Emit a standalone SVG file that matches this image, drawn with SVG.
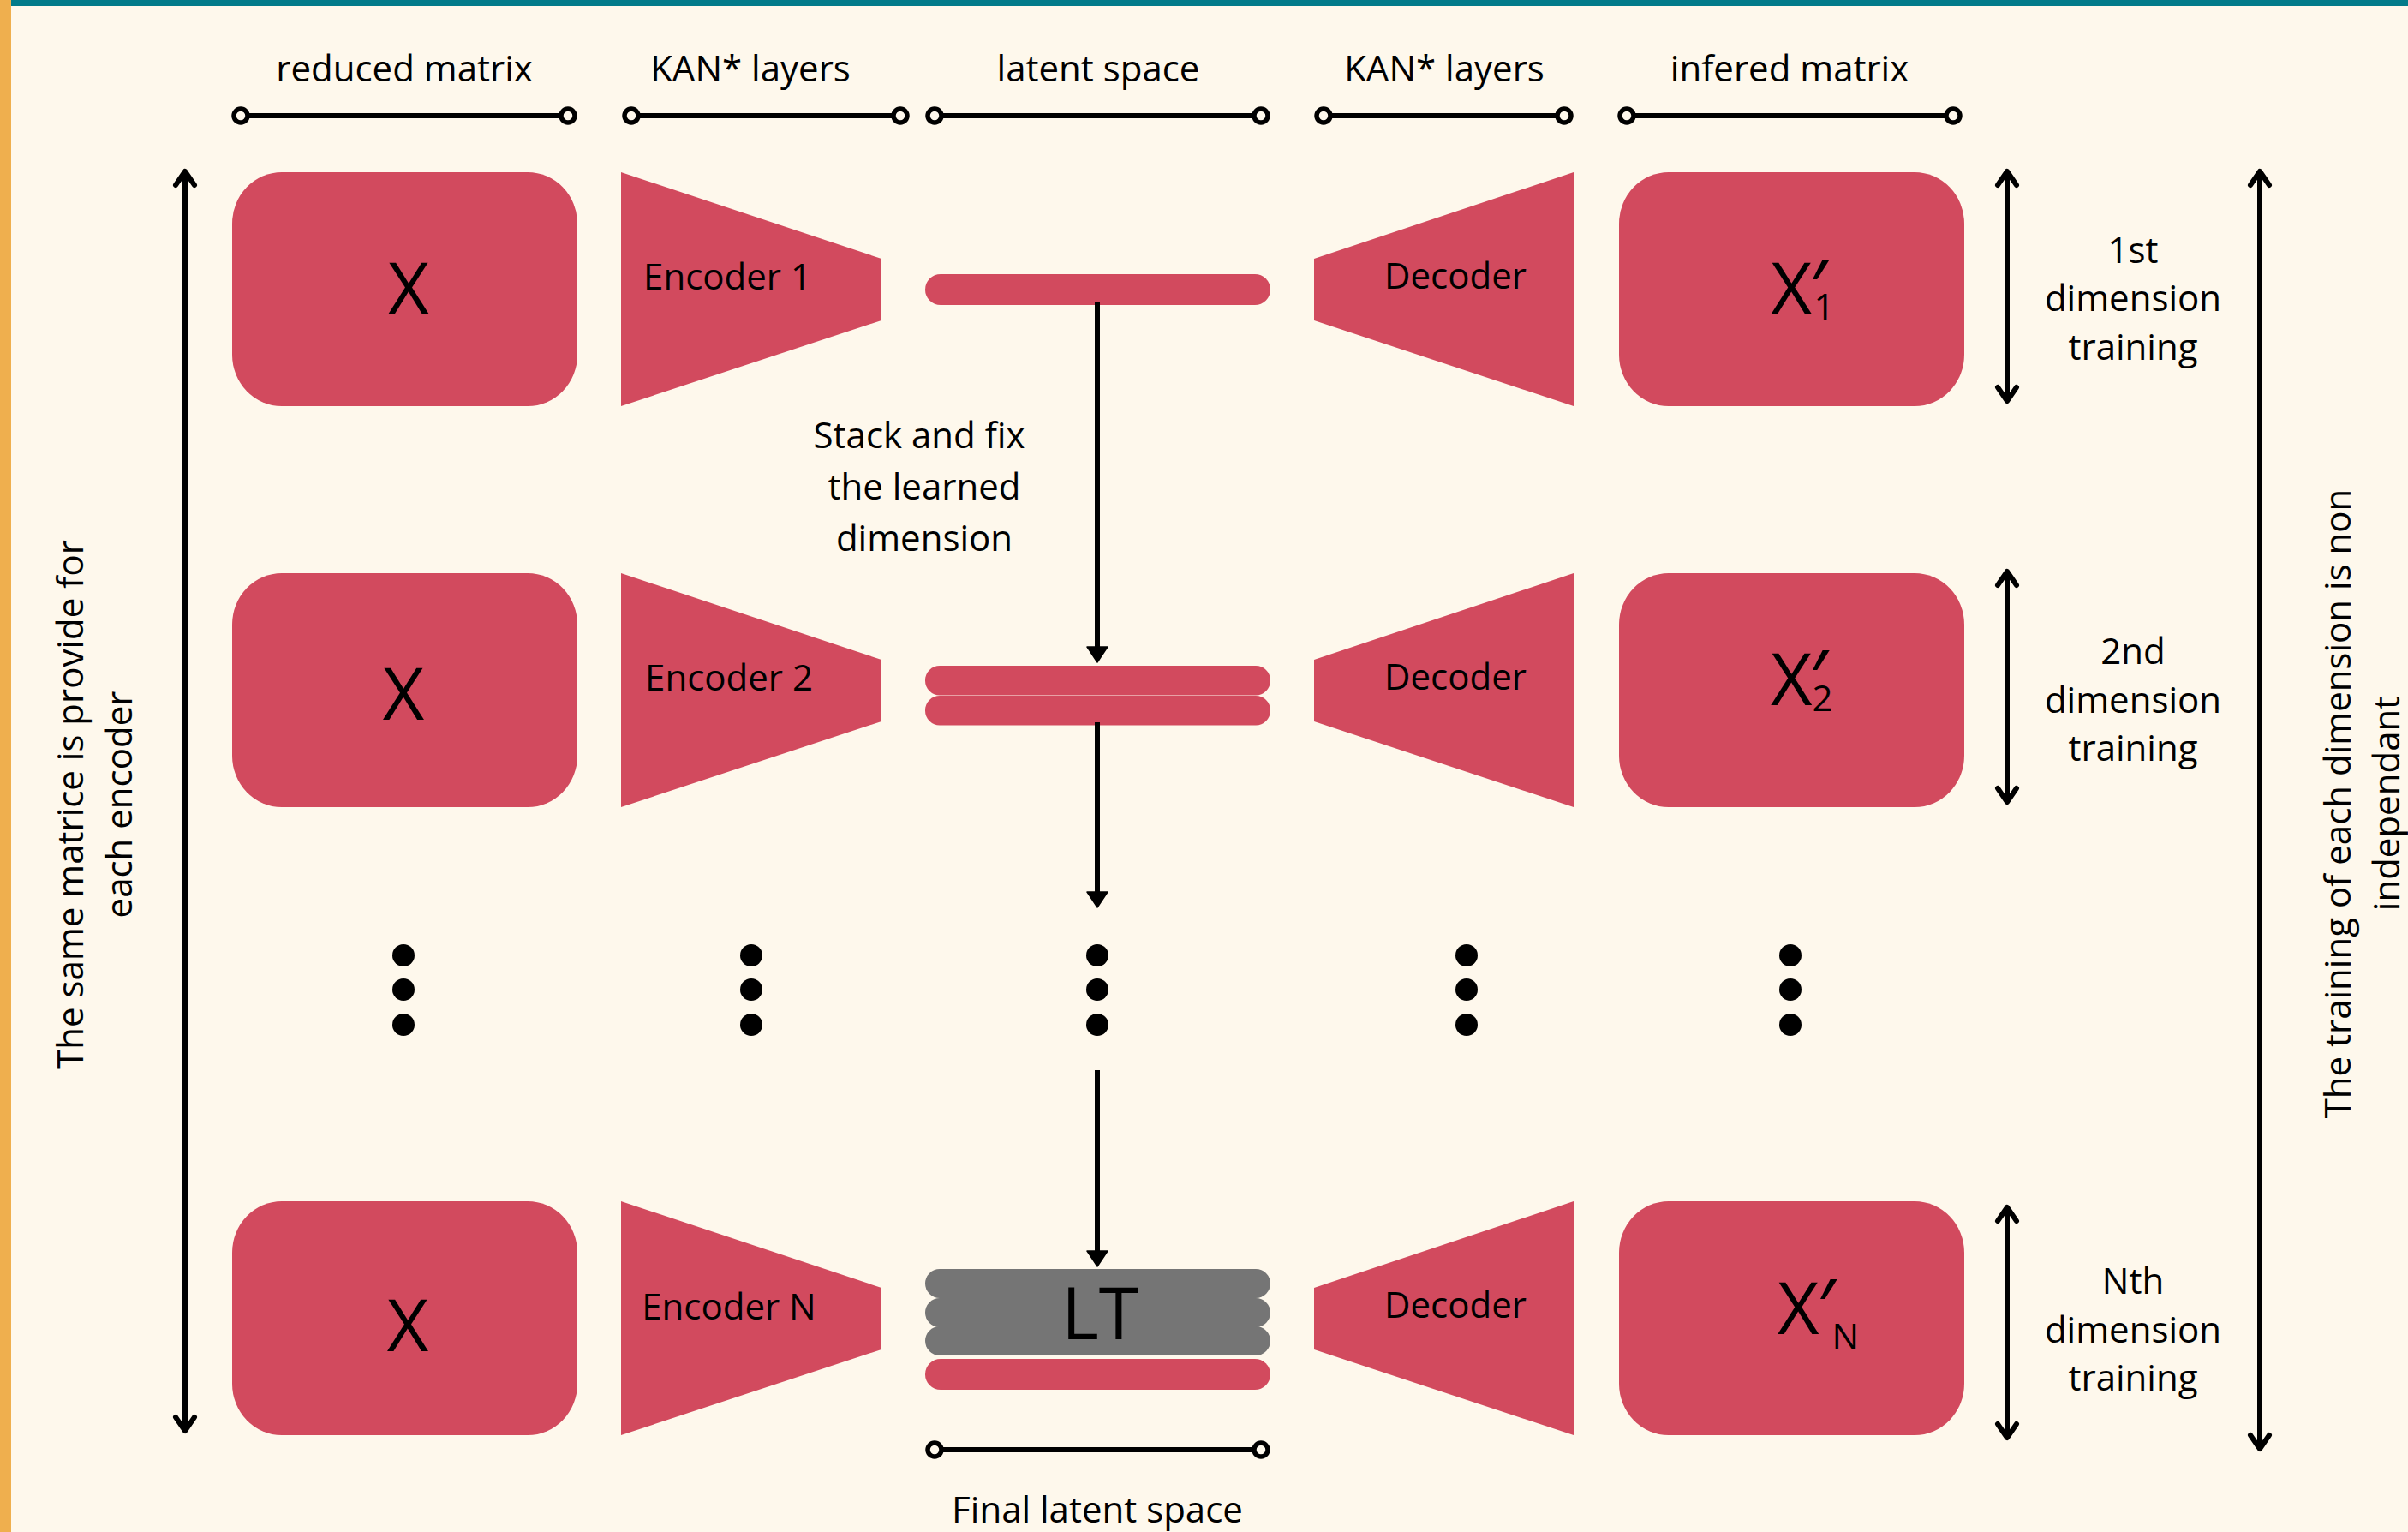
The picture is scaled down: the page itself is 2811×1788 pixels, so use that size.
<svg xmlns="http://www.w3.org/2000/svg" width="2811" height="1788" viewBox="0 0 2811 1788">
<style>
  text { font-family: "Open Sans", "Noto Sans", "DejaVu Sans", sans-serif; fill: #000; }
  .lbl { font-size: 42px; text-anchor: middle; }
  .big { font-size: 84px; text-anchor: middle; }
  .xp { font-size: 84px; }
  .pr { font-family: "Noto Sans", "DejaVu Sans", sans-serif; font-size: 90px; }
  .sub { font-size: 42px; }
  .red { fill: #d24a5e; }
  .gray { fill: #757575; }
  .ln { stroke: #000; stroke-width: 6; fill: none; }
  .dot { fill: #000; }
  .end { fill: #fef8ec; stroke: #000; stroke-width: 5.5; }
</style>
<defs>
  <marker id="chev" markerUnits="userSpaceOnUse" markerWidth="40" markerHeight="40" orient="auto-start-reverse" overflow="visible" refX="0" refY="0">
    <path d="M-16,-11 L0,0 L-16,11" fill="none" stroke="#000" stroke-width="6" stroke-linecap="round" stroke-linejoin="round"/>
  </marker>
  <marker id="tri" markerUnits="userSpaceOnUse" markerWidth="40" markerHeight="40" orient="auto" overflow="visible" refX="0" refY="0">
    <path d="M0,-12 L18,0 L0,12 Z" fill="#000" stroke="#000" stroke-width="1.5" stroke-linejoin="round"/>
  </marker>
</defs>

<rect x="0" y="0" width="2811" height="1788" fill="#fef8ec"/>
<rect x="0" y="0" width="2811" height="7" fill="#027b8a"/>
<rect x="0" y="0" width="13" height="1788" fill="#efaf4e"/>

<!-- column headers -->
<g id="headers">
  <text class="lbl" x="472" y="95">reduced matrix</text>
  <text class="lbl" x="876" y="95">KAN* layers</text>
  <text class="lbl" x="1282" y="95">latent space</text>
  <text class="lbl" x="1686" y="95">KAN* layers</text>
  <text class="lbl" x="2089" y="95">infered matrix</text>
</g>

<!-- row 1 -->
<g id="x1"><rect class="red" x="271" y="201" width="403" height="273" rx="58" ry="60"/><text class="big" x="477" y="367">X</text></g>
<g id="enc1"><polygon class="red" points="725,201 1029,302 1029,374 725,474"/><text class="lbl" x="849" y="338">Encoder 1</text></g>
<g id="lat1"><rect class="red" x="1080" y="320" width="403" height="36" rx="18" ry="18"/></g>
<g id="dec1"><polygon class="red" points="1534,302 1837,201 1837,474 1534,374"/><text class="lbl" x="1699" y="337">Decoder</text></g>
<g id="xp1"><rect class="red" x="1890" y="201" width="403" height="273" rx="58" ry="60"/>
  <text class="xp" x="2067" y="367">X<tspan class="pr" dx="-3">′</tspan><tspan class="sub" dx="-16" dy="6">1</tspan></text></g>
<g id="dim1"><text class="lbl" x="2490" y="307">1st</text><text class="lbl" x="2490" y="363">dimension</text><text class="lbl" x="2490" y="420">training</text></g>

<!-- row 2 -->
<g id="x2"><rect class="red" x="271" y="669" width="403" height="273" rx="58" ry="60"/><text class="big" x="471" y="840">X</text></g>
<g id="enc2"><polygon class="red" points="725,669 1029,770 1029,842 725,942"/><text class="lbl" x="851" y="806">Encoder 2</text></g>
<g id="lat2"><rect class="red" x="1080" y="777" width="403" height="34.5" rx="17" ry="17"/><rect class="red" x="1080" y="812" width="403" height="34.5" rx="17" ry="17"/></g>
<g id="dec2"><polygon class="red" points="1534,770 1837,669 1837,942 1534,842"/><text class="lbl" x="1699" y="805">Decoder</text></g>
<g id="xp2"><rect class="red" x="1890" y="669" width="403" height="273" rx="58" ry="60"/>
  <text class="xp" x="2067" y="823">X<tspan class="pr" dx="-3">′</tspan><tspan class="sub" dx="-18" dy="7">2</tspan></text></g>
<g id="dim2"><text class="lbl" x="2490" y="775">2nd</text><text class="lbl" x="2490" y="832">dimension</text><text class="lbl" x="2490" y="888">training</text></g>

<!-- ellipsis dots -->
<g id="dots">
  <circle class="dot" cx="471" cy="1115" r="13"/><circle class="dot" cx="471" cy="1155" r="13"/><circle class="dot" cx="471" cy="1196" r="13"/>
  <circle class="dot" cx="877" cy="1115" r="13"/><circle class="dot" cx="877" cy="1155" r="13"/><circle class="dot" cx="877" cy="1196" r="13"/>
  <circle class="dot" cx="1281" cy="1115" r="13"/><circle class="dot" cx="1281" cy="1155" r="13"/><circle class="dot" cx="1281" cy="1196" r="13"/>
  <circle class="dot" cx="1712" cy="1115" r="13"/><circle class="dot" cx="1712" cy="1155" r="13"/><circle class="dot" cx="1712" cy="1196" r="13"/>
  <circle class="dot" cx="2090" cy="1115" r="13"/><circle class="dot" cx="2090" cy="1155" r="13"/><circle class="dot" cx="2090" cy="1196" r="13"/>
</g>

<!-- row N -->
<g id="xN"><rect class="red" x="271" y="1402" width="403" height="273" rx="58" ry="60"/><text class="big" x="476" y="1577">X</text></g>
<g id="encN"><polygon class="red" points="725,1402 1029,1503 1029,1575 725,1675"/><text class="lbl" x="851" y="1540">Encoder N</text></g>
<g id="latN">
  <rect class="gray" x="1080" y="1548" width="403" height="34" rx="17" ry="17"/>
  <rect class="gray" x="1080" y="1515" width="403" height="34" rx="17" ry="17"/>
  <rect class="gray" x="1080" y="1481" width="403" height="34" rx="17" ry="17"/>
  <rect class="gray" x="1097" y="1490" width="369" height="84"/>
  <rect class="red" x="1080" y="1586" width="403" height="36" rx="18" ry="18"/>
  <text class="big" x="1284" y="1563">LT</text>
</g>
<g id="decN"><polygon class="red" points="1534,1503 1837,1402 1837,1675 1534,1575"/><text class="lbl" x="1699" y="1538">Decoder</text></g>
<g id="xpN"><rect class="red" x="1890" y="1402" width="403" height="273" rx="58" ry="60"/>
  <text class="xp" x="2075" y="1557">X<tspan class="pr" dx="-2">′</tspan><tspan class="sub" dx="-4" dy="18">N</tspan></text></g>
<g id="dimN"><text class="lbl" x="2490" y="1510">Nth</text><text class="lbl" x="2490" y="1567">dimension</text><text class="lbl" x="2490" y="1623">training</text></g>

<!-- side notes -->
<g id="stack-note">
  <text class="lbl" x="1073" y="523">Stack and fix</text>
  <text class="lbl" x="1079" y="583">the learned</text>
  <text class="lbl" x="1079" y="643">dimension</text>
</g>
<g id="left-note" transform="translate(0,939) rotate(-90)">
  <text class="lbl" x="0" y="97">The same matrice is provide for</text>
  <text class="lbl" x="0" y="154">each encoder</text>
</g>
<g id="right-note" transform="translate(0,938) rotate(-90)">
  <text class="lbl" x="0" y="2744">The training of each dimension is non</text>
  <text class="lbl" x="0" y="2801">independant</text>
</g>
<g id="final-label"><text class="lbl" x="1281" y="1777">Final latent space</text></g>

<!-- connectors -->
<g id="connectors">
  <line class="ln" x1="281" y1="135" x2="663" y2="135"/>
  <line class="ln" x1="737" y1="135" x2="1051" y2="135"/>
  <line class="ln" x1="1091" y1="135" x2="1472" y2="135"/>
  <line class="ln" x1="1545" y1="135" x2="1826" y2="135"/>
  <line class="ln" x1="1899" y1="135" x2="2280" y2="135"/>
  <line class="ln" x1="1091" y1="1692" x2="1472" y2="1692"/>
  <circle class="end" cx="281" cy="135" r="8"/><circle class="end" cx="663" cy="135" r="8"/>
  <circle class="end" cx="737" cy="135" r="8"/><circle class="end" cx="1051" cy="135" r="8"/>
  <circle class="end" cx="1091" cy="135" r="8"/><circle class="end" cx="1472" cy="135" r="8"/>
  <circle class="end" cx="1545" cy="135" r="8"/><circle class="end" cx="1826" cy="135" r="8"/>
  <circle class="end" cx="1899" cy="135" r="8"/><circle class="end" cx="2280" cy="135" r="8"/>
  <circle class="end" cx="1091" cy="1692" r="8"/><circle class="end" cx="1472" cy="1692" r="8"/>

  <line class="ln" x1="1281" y1="352" x2="1281" y2="755" marker-end="url(#tri)"/>
  <line class="ln" x1="1281" y1="843" x2="1281" y2="1041" marker-end="url(#tri)"/>
  <line class="ln" x1="1281" y1="1249" x2="1281" y2="1460" marker-end="url(#tri)"/>

  <line class="ln" x1="216" y1="200" x2="216" y2="1670" marker-start="url(#chev)" marker-end="url(#chev)"/>
  <line class="ln" x1="2638" y1="200" x2="2638" y2="1691" marker-start="url(#chev)" marker-end="url(#chev)"/>
  <line class="ln" x1="2343" y1="200" x2="2343" y2="468" marker-start="url(#chev)" marker-end="url(#chev)"/>
  <line class="ln" x1="2343" y1="667" x2="2343" y2="936" marker-start="url(#chev)" marker-end="url(#chev)"/>
  <line class="ln" x1="2343" y1="1409" x2="2343" y2="1678" marker-start="url(#chev)" marker-end="url(#chev)"/>
</g>
</svg>
